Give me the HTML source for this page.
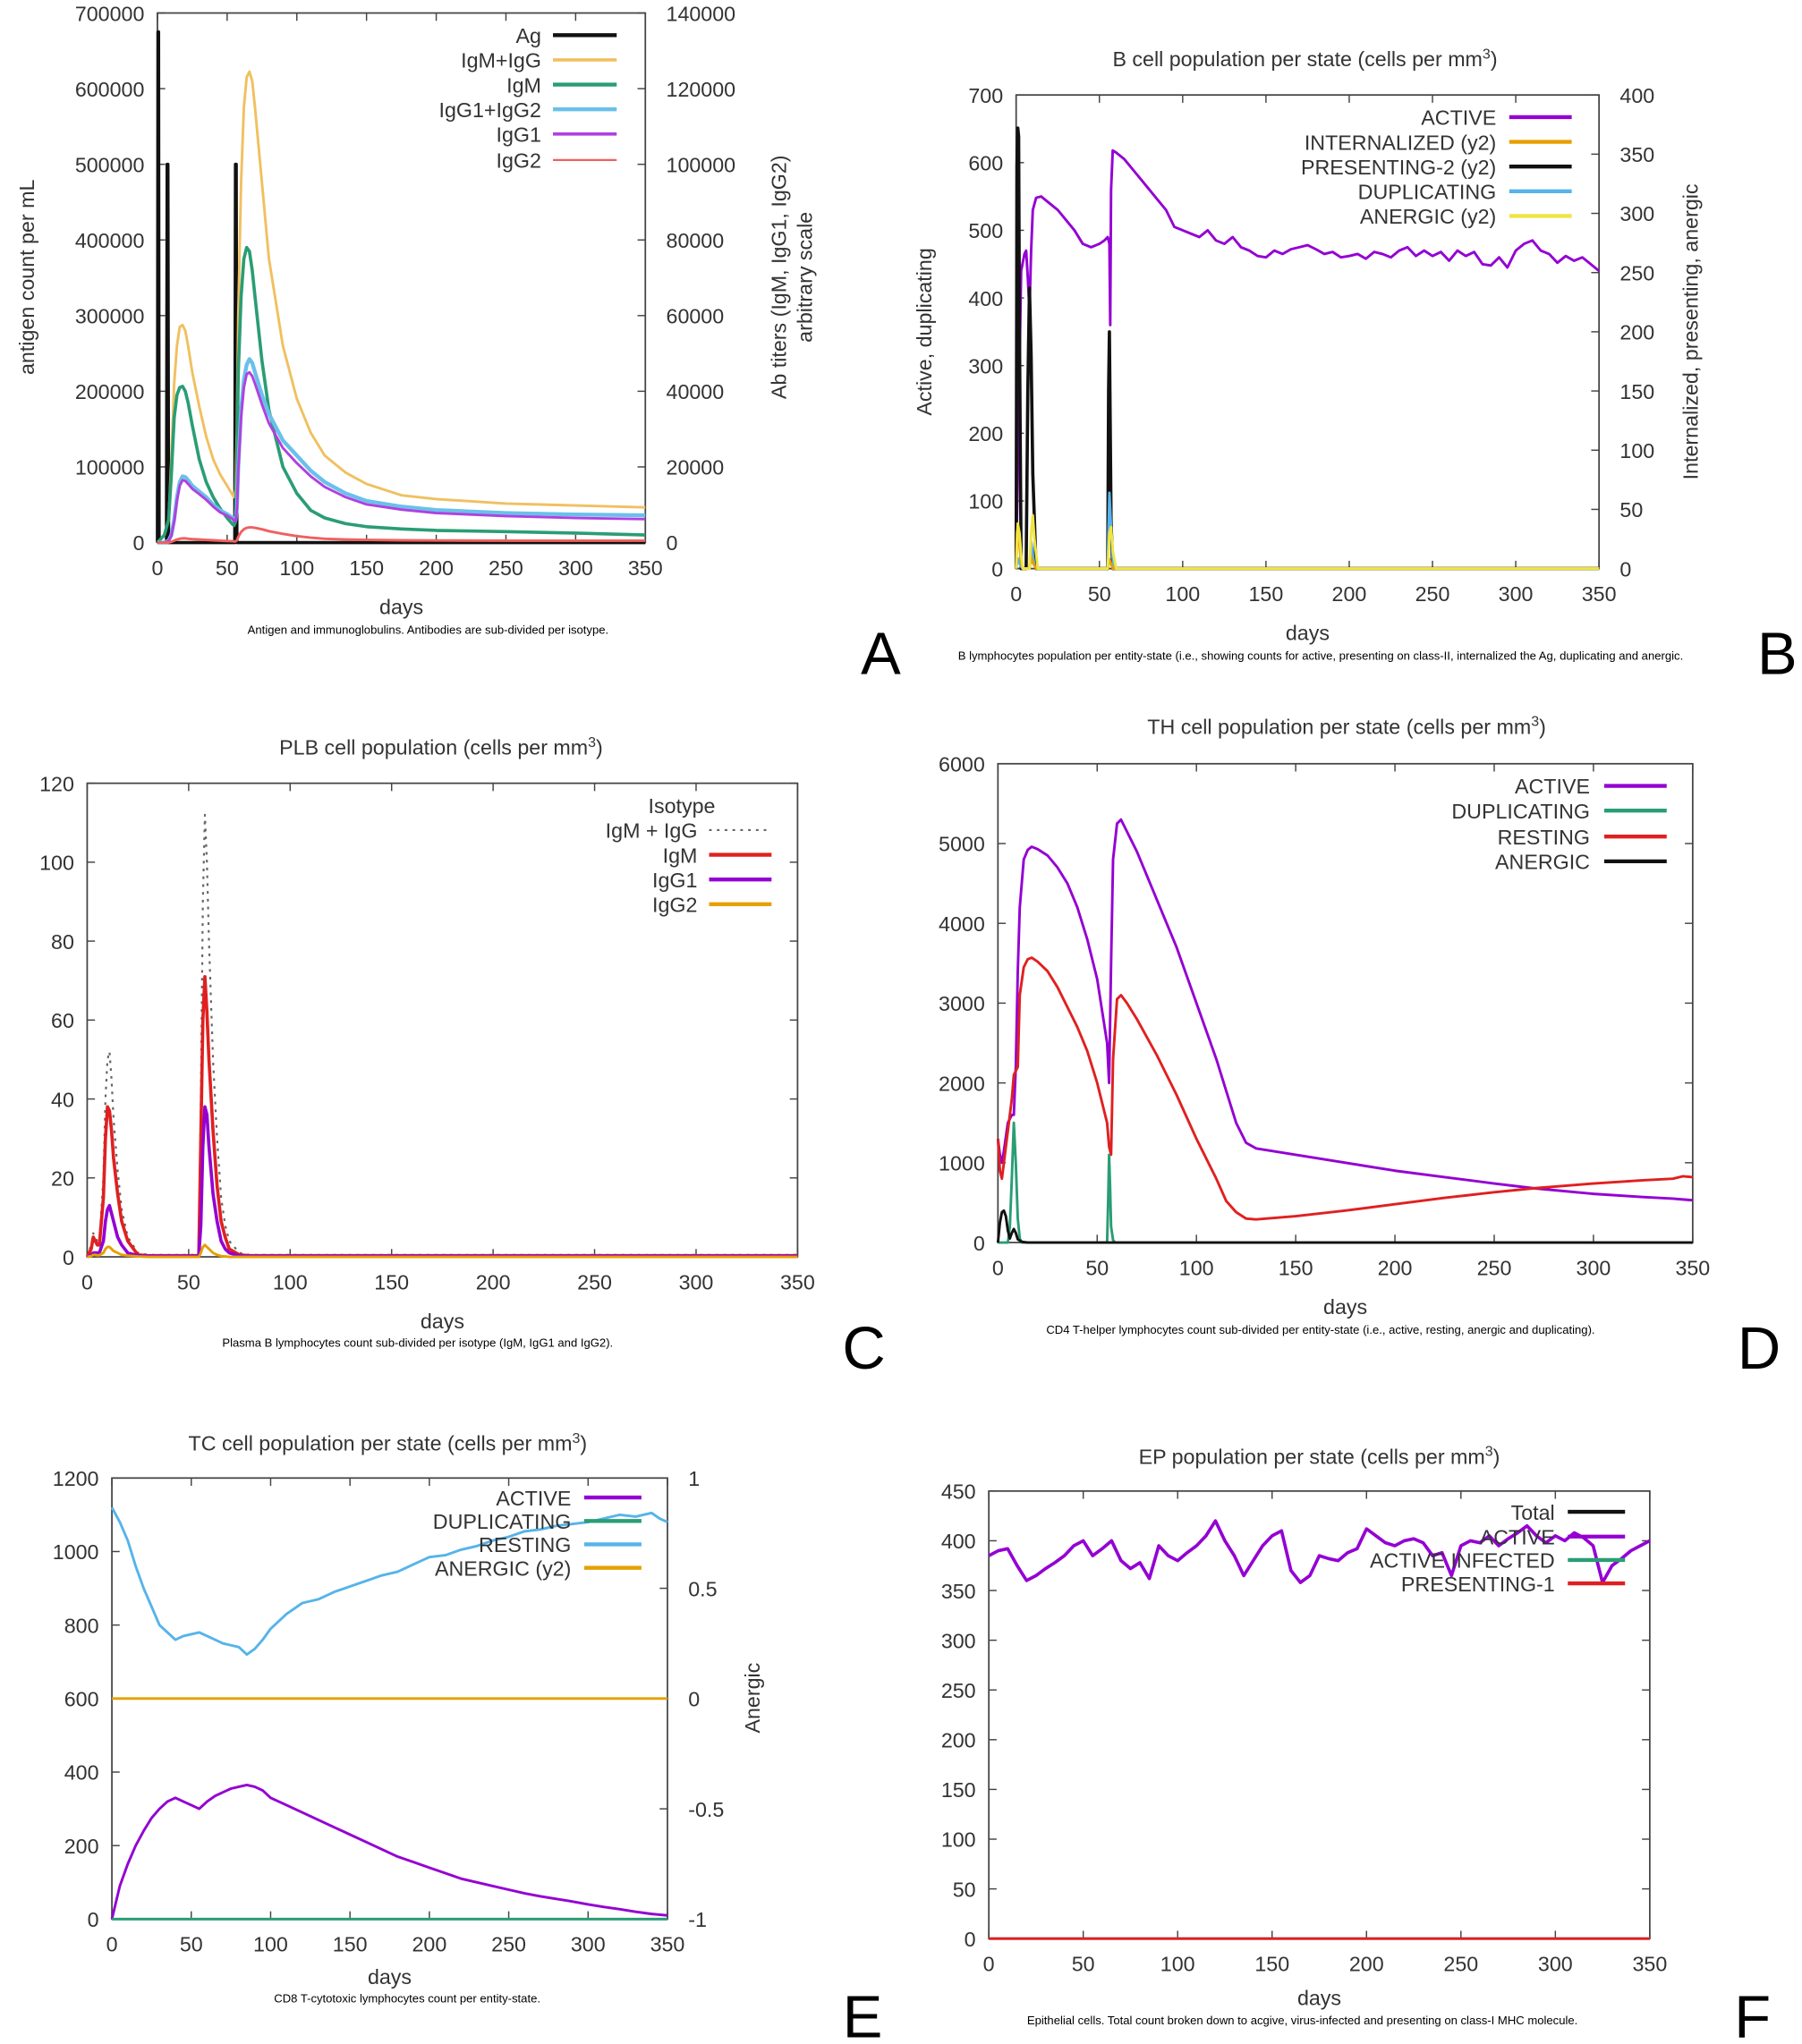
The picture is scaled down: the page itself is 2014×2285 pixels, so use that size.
<!DOCTYPE html>
<html><head><meta charset="utf-8">
<style>
html,body{margin:0;padding:0;background:#fff;}
svg{display:block;}
text{font-family:"Liberation Sans",sans-serif;}
</style></head>
<body>
<svg id="fig" xmlns="http://www.w3.org/2000/svg" width="2014" height="2285" viewBox="0 0 1385 1571" preserveAspectRatio="none"></svg>
<script>
// ---------- Panel A data ----------
const aAgDays=[0,0.4,0.8,1.2,6.5,7,7.5,8,55.5,56,56.5,57,350];
const aAgVals=[0,675000,675000,0,0,500000,500000,0,0,500000,500000,0,0];
const aDays=[0,5,8,10,12,14,16,18,20,22,25,30,35,40,45,50,54,55,56,57,58,60,62,64,66,68,70,75,80,90,100,110,120,135,150,175,200,250,300,350];
const aIgMIgG=[0,2000,6000,22000,42000,52000,57000,57500,56000,52000,45000,36000,28000,22000,18000,15000,12500,12000,14000,30000,60000,95000,115000,123000,124500,122000,115000,95000,75000,52000,38000,29000,23000,18500,15500,12500,11500,10300,9800,9300];
const aIgM=[0,2000,6000,18000,33000,39000,41000,41300,40000,37000,31000,22000,16000,12000,9000,6500,4800,4500,5500,20000,45000,65000,75000,78000,77000,72000,65000,48000,35000,20000,13000,8500,6500,5000,4200,3600,3200,2900,2500,2000];
const aIgG12=[0,0,500,2000,6000,12000,16000,17500,17300,16500,15000,13500,12000,10000,8500,7500,6500,6000,6000,9000,20000,35000,43000,47000,48500,47500,45000,39000,34000,27000,23000,19000,16000,13000,11000,9500,8600,7800,7400,7200];
const aIgG1=[0,0,400,1800,5500,11000,15000,16500,16300,15500,14200,12800,11300,9500,8000,7100,6200,5700,5700,8500,19000,33000,41000,44500,45000,44000,42000,36500,31500,25000,21000,17500,14700,12000,10100,8700,7800,7000,6500,6200];
const aIgG2=[0,0,0,200,500,800,1000,1100,1100,1000,900,800,700,600,500,400,350,300,300,600,1500,2800,3500,3900,4000,4000,3900,3500,3000,2300,1700,1300,1000,800,700,600,550,500,500,500];

// ---------- Panel B data ----------
const bActDays=[0,1,2,3,5,6,7,8,9,10,12,15,20,25,30,35,40,45,50,53,55,56,56.5,57,58,60,65,70,75,80,85,90,95,100,105,110,115,120,125,130,135,140,145,150,155,160,165,170,175,180,185,190,195,200,205,210,215,220,225,230,235,240,245,250,255,260,265,270,275,280,285,290,295,300,305,310,315,320,325,330,335,340,345,350];
const bActVals=[0,150,300,440,465,470,430,380,470,530,548,550,540,530,515,500,480,475,480,485,490,480,360,560,618,615,605,590,575,560,545,530,505,500,495,490,500,485,480,490,475,470,462,460,470,465,472,475,478,472,465,468,460,462,465,458,468,465,460,470,475,462,470,462,468,455,470,462,468,450,448,460,445,470,480,485,470,465,452,462,455,460,450,440];
const bPresDays=[0,0.5,1,1.5,2,3,6,7,8,9,10,12,55,55.5,56,56.5,57,58,350];
const bPresVals=[0,340,372,365,200,0,0,150,237,180,80,0,0,150,200,120,40,0,0];
const bDupDays=[0,1,2,3,4,8,9,10,11,12,55,55.5,56,57,58,59,350];
const bDupVals=[0,15,8,3,0,0,40,20,5,0,0,60,112,60,15,0,0];
const bIntDays=[0,0.5,1,2,3,4,8,9,10,12,55,56,57,58,350];
const bIntVals=[0,30,35,20,5,0,0,10,5,0,0,8,4,0,0];
const bAnDays=[0,1,2,3,4,8,9,10,11,13,55,56,57,58,60,350];
const bAnVals=[0,38,30,12,0,0,30,45,25,0,0,30,35,15,0,0];

// ---------- Panel C data ----------
const cDays=[0,2,3,4,5,6,8,9,10,11,12,13,15,17,20,25,30,54,55,56,57,58,59,60,62,64,66,68,70,75,80,350];
const cTotal=[0,3,6,5,4,4,20,40,50,52,45,35,22,12,5,1,0.5,0.5,1,40,90,112,100,80,50,30,15,8,4,1,0.5,0.5];
const cIgM=[0,2,5,4,3,3,15,30,38,37,32,25,16,9,4,0.5,0.3,0.3,0.5,30,60,71,62,50,32,18,9,5,2,0.5,0.3,0.3];
const cIgG1=[0,0.5,1,1,1,1,4,9,12,13,11,9,5,3,1,0.3,0.2,0.2,0.3,8,28,38,36,28,16,9,4,2,1,0.3,0.2,0.2];
const cIgG2=[0,0.2,0.5,0.5,0.4,0.4,1,2,2.5,2.5,2,1.5,1,0.5,0.3,0.1,0,0,0,1,2.5,3,2.5,2,1,0.5,0.2,0.1,0,0,0,0];

// ---------- Panel D data ----------
const dDays=[0,1,2,3,5,7,8,9,10,11,13,15,17,20,25,30,35,40,45,50,55,56,57,58,60,62,65,70,80,90,100,110,115,120,125,130,150,175,200,225,250,270,300,325,340,345,350];
const dActive=[1300,1100,1000,1150,1500,1600,1600,2200,3400,4200,4800,4920,4960,4930,4850,4700,4500,4200,3800,3300,2500,2000,3500,4800,5250,5300,5150,4900,4300,3700,3000,2300,1900,1500,1250,1180,1100,1000,900,820,740,680,610,570,550,540,530];
const dResting=[1300,900,800,1000,1400,1800,2100,2150,2200,3100,3450,3550,3570,3520,3400,3200,2950,2700,2400,2000,1500,1200,1100,2300,3050,3100,3000,2800,2350,1850,1300,800,520,380,300,290,330,400,480,560,630,680,740,780,800,830,820];
const dDupDays=[0,5,6,7,8,9,10,11,12,55,55.5,56,56.5,57,58,59,350];
const dDupVals=[0,0,200,800,1500,1000,300,50,0,0,500,1100,700,200,30,0,0];
const dAnDays=[0,1,2,3,4,5,6,7,8,9,10,12,15,350];
const dAnVals=[0,250,380,400,330,150,50,120,170,120,40,10,0,0];

// ---------- Panel E data ----------
const eDays=[0,5,10,15,20,25,30,35,40,45,50,55,60,65,70,75,80,85,90,95,100,110,120,130,140,150,160,170,180,190,200,210,220,230,240,250,260,270,280,290,300,310,320,330,340,345,350];
const eResting=[1120,1080,1030,960,900,850,800,780,760,770,775,780,770,760,750,745,740,720,735,760,790,830,860,870,890,905,920,935,945,965,985,990,1005,1015,1030,1040,1055,1060,1070,1075,1080,1090,1100,1095,1105,1090,1080];
const eActive=[0,90,150,200,240,275,300,320,330,320,310,300,320,335,345,355,360,365,360,350,330,310,290,270,250,230,210,190,170,155,140,125,110,100,90,80,70,62,55,48,40,33,27,20,14,12,10];
const eAnDays=[0,350];
const eAnVals=[0,0];

// ---------- Panel F data ----------
const fDays=[0,5,10,15,20,25,30,35,40,45,50,55,60,65,70,75,80,85,90,95,100,105,110,115,120,125,130,135,140,145,150,155,160,165,170,175,180,185,190,195,200,205,210,215,220,225,230,235,240,245,250,255,260,265,270,275,280,285,290,295,300,305,310,315,320,325,330,335,340,345,350];
const fActive=[385,390,392,375,360,365,372,378,385,395,400,385,392,400,380,372,378,362,395,385,380,388,395,405,420,400,385,365,380,395,405,410,370,358,365,385,382,380,388,392,412,405,398,395,400,402,398,385,388,365,395,400,398,405,395,402,408,415,405,398,405,400,408,403,395,358,375,382,390,395,400];
const fZeroDays=[0,350];
const fZeroVals=[0,0];

const xTicks=[0,50,100,150,200,250,300,350];

// ---------- rendering ----------
const NS='http://www.w3.org/2000/svg';
const svg=document.getElementById('fig');
function el(tag,attrs,parent,txt){const e=document.createElementNS(NS,tag);for(const k in attrs)e.setAttribute(k,attrs[k]);if(txt!==undefined)e.textContent=txt;(parent||svg).appendChild(e);return e;}

function makePanel(P){
  const g=el('g',{},svg);
  
  
  P.g=g;
  P.sx=d=>P.x0+(d-0)/(350)*(P.x1-P.x0);
  P.sy=v=>P.y1-(v-P.ymin)/(P.ymax-P.ymin)*(P.y1-P.y0);
  if(P.y2max!==undefined) P.sy2=v=>P.y1-(v-P.y2min)/(P.y2max-P.y2min)*(P.y1-P.y0);
  const frame=el('rect',{x:P.x0,y:P.y0,width:P.x1-P.x0,height:P.y1-P.y0,fill:'none',stroke:'#444','stroke-width':1.2},g);
  
  
  xTicks.forEach(t=>{
    const x=P.sx(t);
    el('line',{x1:x,y1:P.y1,x2:x,y2:P.y1-6,stroke:'#444'},g);
    el('line',{x1:x,y1:P.y0,x2:x,y2:P.y0+6,stroke:'#444'},g);
    const tl=el('text',{x:x,y:P.y1+25,'font-size':16,fill:'#333','text-anchor':'middle'},g,t);
    
    
  });
  P.yTicks.forEach(t=>{
    const y=P.sy(t);
    el('line',{x1:P.x0,y1:y,x2:P.x0+6,y2:y,stroke:'#444'},g);
    if(P.y2max===undefined) el('line',{x1:P.x1,y1:y,x2:P.x1-6,y2:y,stroke:'#444'},g);
    const tl=el('text',{x:P.x0-10,y:y+6,'font-size':16,fill:'#333','text-anchor':'end'},g,t);
    
    
  });
  if(P.y2Ticks){P.y2Ticks.forEach(t=>{
    const y=P.sy2(t);
    el('line',{x1:P.x1,y1:y,x2:P.x1-6,y2:y,stroke:'#444'},g);
    const tl=el('text',{x:P.x1+16,y:y+6,'font-size':16,fill:'#333','text-anchor':'start'},g,t);
    
    
  });}
  const xl=el('text',{x:(P.x0+P.x1)/2,y:P.y1+(P.dOff||55),'font-size':16,fill:'#333','text-anchor':'middle'},g,'days');
  
  
  return P;
}
function series(P,days,vals,color,opts){
  opts=opts||{};
  const sy=opts.y2?P.sy2:P.sy;
  let d='';
  for(let i=0;i<days.length;i++){d+=(i?'L':'M')+P.sx(days[i]).toFixed(2)+','+sy(vals[i]).toFixed(2);}
  const p=el('path',{d:d,fill:'none',stroke:color,'stroke-width':opts.w||2,'stroke-linejoin':'round'},P.g);
  if(opts.dash)p.setAttribute('stroke-dasharray',opts.dash);
  
  
}
function legend(P,items,tx,lx0,lx1,ys){
  items.forEach((it,i)=>{
    const t=el('text',{x:tx,y:ys[i]+6,'font-size':16,fill:'#333','text-anchor':'end'},P.g,it[0]);
    
    
    const l=el('line',{x1:lx0,y1:ys[i],x2:lx1,y2:ys[i],stroke:it[1],'stroke-width':it[2]||2.5},P.g);
    if(it[3])l.setAttribute('stroke-dasharray',it[3]);
    
    
  });
}
function text(x,y,s,size,opts,name){
  opts=opts||{};
  const a={x:x,y:y,'font-size':size,fill:opts.fill||'#333','text-anchor':opts.anchor||'middle'};
  if(opts.rot)a.transform='rotate(-90 '+x+' '+y+')';
  if(opts.family)a['font-family']=opts.family;
  if(opts.weight)a['font-weight']=opts.weight;
  const t=el('text',a,svg,s);
  
  
  return t;
}
function title(x,y,s,name){
  const t=text(x,y,s,16,{},name);
  el('tspan',{dy:-6,'font-size':11},t,'3');
  el('tspan',{dy:6},t,')');
}

// Panel A
const A=makePanel({name:'panel-a-antigen-chart',x0:121,x1:496,y0:10,y1:417,ymin:0,ymax:700000,y2min:0,y2max:140000,
  yTicks:[0,100000,200000,300000,400000,500000,600000,700000],y2Ticks:[0,20000,40000,60000,80000,100000,120000,140000]});
series(A,aAgDays,aAgVals,'#111',{w:2.5,name:'ag-line'});
series(A,aDays,aIgMIgG,'#f0c060',{y2:true,name:'igm-igg-line'});
series(A,aDays,aIgM,'#2a9d74',{y2:true,w:2.5,name:'igm-line'});
series(A,aDays,aIgG12,'#6ac0ea',{y2:true,w:3,name:'igg1-igg2-line'});
series(A,aDays,aIgG1,'#b040e0',{y2:true,name:'igg1-line'});
series(A,aDays,aIgG2,'#f06060',{y2:true,name:'igg2-line'});
legend(A,[['Ag','#111',3],['IgM+IgG','#f0c060'],['IgM','#2a9d74',3],['IgG1+IgG2','#6ac0ea',3],['IgG1','#b040e0'],['IgG2','#f06060',1.5]],416,425,474,[27,46,65,84,103,123]);
text(26,213,'antigen count per mL',16,{rot:true},'y-axis-title');
text(604,213,'Ab titers (IgM, IgG1, IgG2)',16,{rot:true},'y2-axis-title');
text(624,213,'arbitrary scale',16,{rot:true},'y2-axis-subtitle');
text(329,487,'Antigen and immunoglobulins. Antibodies are sub-divided per isotype.',9,{fill:'#000'},'caption-a');
text(677,518,'A',46,{fill:'#000',family:'Liberation Serif'},'panel-letter-a');

// Panel B
const B=makePanel({name:'panel-b-bcell-chart',x0:781,x1:1229,y0:73,y1:437,ymin:0,ymax:700,y2min:0,y2max:400,
  yTicks:[0,100,200,300,400,500,600,700],y2Ticks:[0,50,100,150,200,250,300,350,400]});
series(B,bActDays,bActVals,'#9400d3',{name:'active-line'});
series(B,bPresDays,bPresVals,'#111',{y2:true,w:2.5,name:'presenting-2-line'});
series(B,bDupDays,bDupVals,'#56b4e9',{name:'duplicating-line'});
series(B,bIntDays,bIntVals,'#e69f00',{y2:true,name:'internalized-line'});
series(B,bAnDays,bAnVals,'#f0e442',{y2:true,name:'anergic-line'});
legend(B,[['ACTIVE','#9400d3',3],['INTERNALIZED (y2)','#e69f00',3],['PRESENTING-2 (y2)','#111',3],['DUPLICATING','#56b4e9',3],['ANERGIC (y2)','#f0e442',3]],1150,1160,1208,[90,109,128,147,166]);
title(1003,51,'B cell population  per state (cells per mm','title-b');
text(716,255,'Active, duplicating',16,{rot:true},'y-axis-title');
text(1305,255,'Internalized, presenting, anergic',16,{rot:true},'y2-axis-title');
text(1015,507,'B lymphocytes population per entity-state (i.e., showing counts for active, presenting on class-II, internalized the Ag, duplicating and anergic.',9,{fill:'#000'},'caption-b');
text(1366,518,'B',46,{fill:'#000',family:'Liberation Serif'},'panel-letter-b');

// Panel C
const C=makePanel({name:'panel-c-plb-chart',x0:67,x1:613,y0:602,y1:966,ymin:0,ymax:120,yTicks:[0,20,40,60,80,100,120]});
series(C,cDays,cTotal,'#666',{w:1.5,dash:'2,4',name:'igm-igg-line'});
series(C,cDays,cIgM,'#e02020',{w:2.5,name:'igm-line'});
series(C,cDays,cIgG1,'#9400d3',{w:2.5,name:'igg1-line'});
series(C,cDays,cIgG2,'#e6a000',{name:'igg2-line'});
text(524,625,'Isotype',16,{},'legend-title');
legend(C,[['IgM + IgG','#666',1.5,'2,4'],['IgM','#e02020',3],['IgG1','#9400d3',3],['IgG2','#e6a000',3]],536,545,593,[638,657,676,695]);
title(339,580,'PLB cell population (cells per mm','title-c');
text(321,1035,'Plasma B lymphocytes count sub-divided per isotype (IgM, IgG1 and IgG2).',9,{fill:'#000'},'caption-c');
text(664,1052,'C',46,{fill:'#000',family:'Liberation Serif'},'panel-letter-c');

// Panel D
const D=makePanel({name:'panel-d-th-chart',x0:767,x1:1301,y0:587,y1:955,ymin:0,ymax:6000,yTicks:[0,1000,2000,3000,4000,5000,6000]});
series(D,dDays,dActive,'#9400d3',{name:'active-line'});
series(D,dDays,dResting,'#e02020',{name:'resting-line'});
series(D,dDupDays,dDupVals,'#2a9d74',{name:'duplicating-line'});
series(D,dAnDays,dAnVals,'#111',{name:'anergic-line'});
legend(D,[['ACTIVE','#9400d3',3],['DUPLICATING','#2a9d74',3],['RESTING','#e02020',3],['ANERGIC','#111',3]],1222,1233,1281,[604,623,643,662]);
title(1035,564,'TH cell population per state (cells per mm','title-d');
text(1015,1025,'CD4 T-helper lymphocytes count sub-divided per entity-state (i.e., active, resting, anergic and duplicating).',9,{fill:'#000'},'caption-d');
text(1352,1052,'D',46,{fill:'#000',family:'Liberation Serif'},'panel-letter-d');

// Panel E
const E=makePanel({name:'panel-e-tc-chart',x0:86,x1:513,y0:1136,y1:1475,ymin:0,ymax:1200,y2min:-1,y2max:1,dOff:50,
  yTicks:[0,200,400,600,800,1000,1200],y2Ticks:[-1,-0.5,0,0.5,1]});
series(E,eDays,eResting,'#56b4e9',{name:'resting-line'});
series(E,eDays,eActive,'#9400d3',{name:'active-line'});
series(E,eAnDays,eAnVals,'#e6a000',{y2:true,name:'anergic-line'});
series(E,eAnDays,eAnVals,'#2a9d74',{name:'duplicating-line'});
legend(E,[['ACTIVE','#9400d3',3],['DUPLICATING','#2a9d74',3],['RESTING','#56b4e9',3],['ANERGIC (y2)','#e6a000',3]],439,449,493,[1151,1169,1187,1205]);
title(298,1115,'TC cell population per state (cells per mm','title-e');
text(584,1305,'Anergic',16,{rot:true},'y2-axis-title');
text(313,1539,'CD8 T-cytotoxic lymphocytes count per entity-state.',9,{fill:'#000'},'caption-e');
text(663,1566,'E',46,{fill:'#000',family:'Liberation Serif'},'panel-letter-e');

// Panel F
const F=makePanel({name:'panel-f-ep-chart',x0:760,x1:1268,y0:1146,y1:1490,ymin:0,ymax:450,dOff:51,yTicks:[0,50,100,150,200,250,300,350,400,450]});
series(F,fZeroDays,fZeroVals,'#2a9d74',{name:'active-infected-line'});
series(F,fZeroDays,fZeroVals,'#e02020',{name:'presenting-1-line'});
series(F,fDays,fActive,'#9400d3',{w:2.5,name:'active-line'});
legend(F,[['Total','#111',3],['ACTIVE','#9400d3',3],['ACTIVE INFECTED','#2a9d74',3],['PRESENTING-1','#e02020',3]],1195,1205,1249,[1162,1181,1199,1217]);
title(1014,1125,'EP population per state (cells per mm','title-f');
text(1001,1556,'Epithelial cells. Total count broken down to acgive, virus-infected and presenting on class-I MHC molecule.',9,{fill:'#000'},'caption-f');
text(1347,1566,'F',46,{fill:'#000',family:'Liberation Serif'},'panel-letter-f');
</script>
</body></html>
